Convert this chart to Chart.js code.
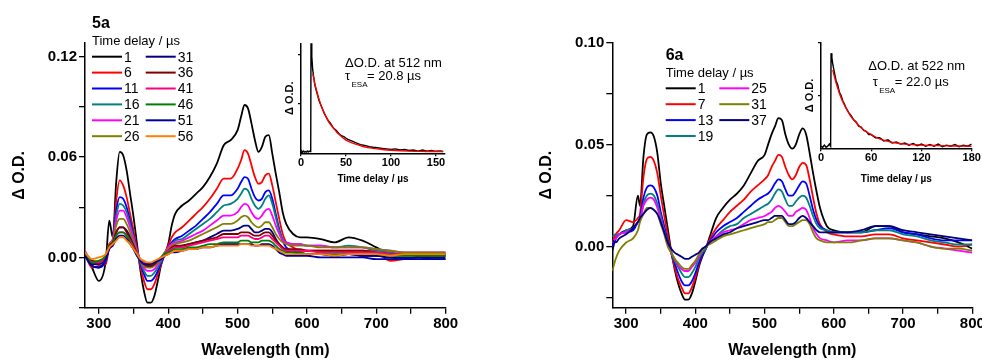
<!DOCTYPE html>
<html>
<head>
<meta charset="utf-8">
<title>Transient absorption 5a / 6a</title>
<script src="https://cdn.jsdelivr.net/npm/chart.js@4.4.0/dist/chart.umd.min.js"></script>
<style>
	body { margin: 0; width: 982px; height: 360px; overflow: hidden; background: #fff; position: relative; }
	canvas { position: absolute; }
</style>
</head>
<body>
<canvas id="spectra5a" width="491" height="360" style="left:0;top:0"></canvas>
<canvas id="spectra6a" width="520" height="360" style="left:491px;top:0"></canvas>
<canvas id="decay5a" width="185" height="150" style="left:270px;top:35px"></canvas>
<canvas id="decay6a" width="192" height="150" style="left:790px;top:35px"></canvas>
<script>
// ---- panel 5a : spectra ----
var wavelength5a = [280, 290, 300, 310, 315, 320, 325, 330, 335, 340,
	345, 350, 355, 360, 365, 370, 375, 380, 385, 390,
	395, 400, 405, 410, 420, 430, 440, 450, 460, 470,
	480, 490, 500, 505, 510, 515, 520, 525, 530, 535,
	540, 545, 550, 555, 560, 565, 570, 580, 590, 600,
	620, 640, 660, 680, 700, 720, 740, 760, 780, 800];
var delays5a = ['1', '6', '11', '16', '21', '26', '31', '36', '41', '46', '51', '56'];

var od5a_1 = [0.002, -0.006, -0.014, -0.002, 0.022, 0.012, 0.045, 0.063, 0.061, 0.052,
	0.038, 0.024, 0.008, -0.008, -0.020, -0.027, -0.027, -0.023, -0.014, -0.004,
	0.002, 0.008, 0.019, 0.026, 0.031, 0.034, 0.038, 0.042, 0.048, 0.056,
	0.067, 0.070, 0.076, 0.084, 0.091, 0.089, 0.080, 0.070, 0.063, 0.066,
	0.072, 0.073, 0.062, 0.050, 0.039, 0.027, 0.020, 0.014, 0.012, 0.012,
	0.011, 0.009, 0.012, 0.010, 0.006, 0.002, 0.002, 0.001, 0.002, 0.001];
var od5a_6 = [0.002, -0.006, -0.005, -0.004, 0.006, 0.010, 0.034, 0.046, 0.043, 0.036,
	0.026, 0.016, 0.005, -0.006, -0.014, -0.019, -0.019, -0.016, -0.010, -0.004,
	0.002, 0.007, 0.012, 0.015, 0.018, 0.022, 0.026, 0.030, 0.035, 0.041,
	0.047, 0.047, 0.053, 0.058, 0.064, 0.062, 0.055, 0.048, 0.044, 0.045,
	0.049, 0.050, 0.043, 0.033, 0.023, 0.014, 0.009, 0.006, 0.004, 0.004,
	0.004, 0.004, 0.004, 0.004, 0.003, -0.002, -0.001, 0.000, 0.001, 0.001];
var od5a_11 = [0.001, -0.005, -0.006, -0.002, 0.006, 0.010, 0.028, 0.036, 0.035, 0.030,
	0.022, 0.013, 0.004, -0.004, -0.010, -0.014, -0.014, -0.012, -0.008, -0.003,
	0.002, 0.006, 0.009, 0.011, 0.013, 0.016, 0.019, 0.023, 0.027, 0.032,
	0.037, 0.037, 0.041, 0.045, 0.048, 0.047, 0.041, 0.036, 0.034, 0.035,
	0.039, 0.040, 0.035, 0.026, 0.017, 0.010, 0.006, 0.004, 0.003, 0.002,
	0.002, 0.001, 0.002, 0.001, 0.001, 0.000, -0.001, 0.000, -0.001, -0.001];
var od5a_16 = [0.003, -0.004, -0.004, -0.001, 0.007, 0.010, 0.025, 0.032, 0.031, 0.027,
	0.020, 0.012, 0.004, -0.003, -0.008, -0.011, -0.011, -0.009, -0.006, -0.002,
	0.002, 0.006, 0.008, 0.010, 0.011, 0.014, 0.017, 0.020, 0.023, 0.027,
	0.031, 0.032, 0.035, 0.038, 0.041, 0.040, 0.035, 0.031, 0.029, 0.031,
	0.035, 0.037, 0.032, 0.024, 0.016, 0.011, 0.009, 0.008, 0.008, 0.007,
	0.007, 0.006, 0.007, 0.006, 0.004, 0.003, 0.002, 0.002, 0.002, 0.002];
var od5a_21 = [0.004, -0.003, -0.003, 0.000, 0.008, 0.011, 0.022, 0.028, 0.028, 0.024,
	0.018, 0.011, 0.004, -0.002, -0.006, -0.008, -0.008, -0.007, -0.004, -0.001,
	0.003, 0.006, 0.008, 0.009, 0.010, 0.012, 0.014, 0.016, 0.019, 0.022,
	0.025, 0.025, 0.027, 0.030, 0.032, 0.031, 0.027, 0.024, 0.023, 0.025,
	0.028, 0.029, 0.025, 0.019, 0.014, 0.010, 0.009, 0.008, 0.008, 0.007,
	0.007, 0.006, 0.006, 0.006, 0.005, 0.004, 0.003, 0.003, 0.003, 0.003];
var od5a_26 = [0.003, -0.002, -0.002, 0.001, 0.008, 0.010, 0.019, 0.023, 0.023, 0.020,
	0.015, 0.009, 0.003, -0.002, -0.005, -0.006, -0.006, -0.005, -0.003, 0.000,
	0.003, 0.005, 0.007, 0.008, 0.009, 0.010, 0.012, 0.014, 0.016, 0.018,
	0.020, 0.020, 0.022, 0.024, 0.025, 0.024, 0.021, 0.019, 0.018, 0.019,
	0.021, 0.021, 0.018, 0.014, 0.011, 0.009, 0.008, 0.007, 0.007, 0.007,
	0.006, 0.006, 0.006, 0.006, 0.005, 0.004, 0.003, 0.003, 0.003, 0.003];
var od5a_31 = [0.002, -0.004, -0.004, 0.000, 0.006, 0.008, 0.015, 0.018, 0.018, 0.016,
	0.012, 0.007, 0.002, -0.002, -0.004, -0.005, -0.005, -0.004, -0.002, 0.000,
	0.002, 0.004, 0.005, 0.006, 0.007, 0.008, 0.009, 0.010, 0.012, 0.014,
	0.016, 0.016, 0.017, 0.018, 0.019, 0.019, 0.017, 0.015, 0.015, 0.016,
	0.017, 0.017, 0.015, 0.011, 0.008, 0.006, 0.004, 0.003, 0.002, 0.002,
	0.002, 0.001, 0.002, 0.001, 0.001, 0.000, 0.000, 0.000, 0.000, 0.000];
var od5a_36 = [0.003, -0.002, -0.003, 0.001, 0.007, 0.009, 0.015, 0.018, 0.018, 0.015,
	0.011, 0.007, 0.002, -0.002, -0.004, -0.005, -0.005, -0.004, -0.002, 0.000,
	0.002, 0.004, 0.006, 0.007, 0.007, 0.008, 0.009, 0.010, 0.011, 0.012,
	0.014, 0.014, 0.014, 0.015, 0.015, 0.015, 0.014, 0.013, 0.013, 0.014,
	0.015, 0.015, 0.013, 0.010, 0.008, 0.006, 0.005, 0.005, 0.005, 0.004,
	0.004, 0.004, 0.004, 0.004, 0.003, 0.002, 0.002, 0.002, 0.002, 0.002];
var od5a_41 = [0.002, -0.003, -0.003, 0.001, 0.006, 0.008, 0.013, 0.015, 0.015, 0.013,
	0.010, 0.006, 0.002, -0.001, -0.003, -0.004, -0.004, -0.003, -0.002, 0.000,
	0.002, 0.004, 0.005, 0.006, 0.006, 0.007, 0.008, 0.009, 0.010, 0.011,
	0.012, 0.012, 0.012, 0.013, 0.013, 0.013, 0.012, 0.011, 0.011, 0.012,
	0.013, 0.013, 0.011, 0.009, 0.007, 0.005, 0.004, 0.004, 0.004, 0.004,
	0.003, 0.003, 0.003, 0.003, 0.003, 0.002, 0.002, 0.002, 0.002, 0.002];
var od5a_46 = [0.002, -0.003, -0.002, 0.001, 0.006, 0.008, 0.013, 0.015, 0.015, 0.013,
	0.009, 0.005, 0.001, -0.002, -0.004, -0.004, -0.004, -0.003, -0.002, 0.000,
	0.002, 0.003, 0.004, 0.005, 0.005, 0.006, 0.006, 0.007, 0.008, 0.008,
	0.009, 0.009, 0.009, 0.010, 0.010, 0.010, 0.009, 0.009, 0.009, 0.010,
	0.010, 0.010, 0.009, 0.007, 0.005, 0.004, 0.003, 0.003, 0.003, 0.002,
	0.002, 0.002, 0.002, 0.002, 0.002, 0.001, 0.001, 0.001, 0.001, 0.001];
var od5a_51 = [0.001, -0.005, -0.006, -0.001, 0.005, 0.007, 0.011, 0.013, 0.013, 0.011,
	0.008, 0.005, 0.001, -0.002, -0.004, -0.004, -0.004, -0.003, -0.002, -0.001,
	0.001, 0.002, 0.003, 0.003, 0.004, 0.005, 0.005, 0.006, 0.006, 0.007,
	0.008, 0.008, 0.008, 0.008, 0.008, 0.008, 0.008, 0.007, 0.007, 0.008,
	0.008, 0.008, 0.007, 0.005, 0.003, 0.002, 0.001, 0.001, 0.001, 0.001,
	0.000, 0.000, 0.000, 0.000, -0.001, -0.001, -0.001, -0.001, -0.001, -0.001];
var od5a_56 = [0.003, -0.001, 0.000, 0.002, 0.006, 0.008, 0.010, 0.012, 0.012, 0.010,
	0.008, 0.005, 0.002, -0.001, -0.002, -0.003, -0.003, -0.002, -0.001, 0.000,
	0.001, 0.002, 0.003, 0.004, 0.004, 0.005, 0.005, 0.006, 0.006, 0.007,
	0.007, 0.007, 0.007, 0.008, 0.008, 0.008, 0.007, 0.007, 0.007, 0.007,
	0.007, 0.007, 0.006, 0.005, 0.004, 0.003, 0.002, 0.002, 0.002, 0.002,
	0.002, 0.001, 0.002, 0.002, 0.002, 0.001, 0.002, 0.002, 0.002, 0.002];

// ---- panel 6a : spectra ----
var wavelength6a = [280, 285, 290, 300, 310, 317, 320, 325, 330, 335,
	340, 345, 350, 355, 360, 365, 370, 375, 380, 385,
	390, 395, 400, 405, 410, 415, 420, 430, 440, 450,
	460, 470, 480, 490, 500, 505, 510, 515, 520, 525,
	530, 535, 540, 545, 550, 555, 560, 565, 570, 575,
	580, 590, 600, 620, 640, 660, 680, 700, 720, 740,
	760, 780, 800];
var delays6a = ['1', '7', '13', '19', '25', '31', '37'];

var od6a_1 = [-0.002, 0.004, 0.006, 0.008, 0.010, 0.025, 0.020, 0.044, 0.055, 0.056,
	0.054, 0.046, 0.031, 0.020, 0.009, -0.002, -0.011, -0.018, -0.023, -0.026,
	-0.026, -0.023, -0.017, -0.010, -0.005, -0.001, 0.004, 0.014, 0.019, 0.023,
	0.026, 0.030, 0.036, 0.042, 0.045, 0.050, 0.055, 0.059, 0.063, 0.062,
	0.055, 0.050, 0.048, 0.050, 0.055, 0.058, 0.055, 0.046, 0.036, 0.027,
	0.019, 0.010, 0.008, 0.007, 0.007, 0.010, 0.010, 0.007, 0.006, 0.005,
	0.004, 0.002, -0.001];
var od6a_7 = [0.002, 0.006, 0.008, 0.013, 0.012, 0.014, 0.016, 0.034, 0.043, 0.044,
	0.042, 0.036, 0.025, 0.015, 0.006, -0.003, -0.010, -0.016, -0.020, -0.023,
	-0.023, -0.020, -0.015, -0.009, -0.004, -0.001, 0.003, 0.009, 0.013, 0.017,
	0.020, 0.023, 0.027, 0.030, 0.033, 0.035, 0.039, 0.042, 0.045, 0.044,
	0.039, 0.035, 0.033, 0.035, 0.039, 0.041, 0.040, 0.033, 0.024, 0.016,
	0.011, 0.007, 0.006, 0.005, 0.005, 0.006, 0.006, 0.004, 0.003, 0.002,
	0.001, 0.000, 0.001];
var od6a_13 = [0.000, 0.004, 0.006, 0.007, 0.008, 0.012, 0.014, 0.024, 0.029, 0.030,
	0.029, 0.025, 0.017, 0.010, 0.003, -0.003, -0.008, -0.013, -0.017, -0.019,
	-0.019, -0.017, -0.013, -0.008, -0.004, -0.001, 0.002, 0.007, 0.010, 0.012,
	0.014, 0.017, 0.020, 0.023, 0.025, 0.026, 0.028, 0.031, 0.033, 0.032,
	0.028, 0.025, 0.025, 0.027, 0.030, 0.032, 0.031, 0.025, 0.018, 0.013,
	0.010, 0.008, 0.007, 0.007, 0.007, 0.008, 0.009, 0.007, 0.006, 0.004,
	0.003, 0.003, 0.003];
var od6a_19 = [0.005, 0.006, 0.006, 0.008, 0.009, 0.012, 0.013, 0.021, 0.025, 0.026,
	0.025, 0.021, 0.015, 0.008, 0.002, -0.003, -0.007, -0.010, -0.013, -0.015,
	-0.015, -0.013, -0.010, -0.006, -0.003, -0.001, 0.002, 0.005, 0.008, 0.010,
	0.011, 0.014, 0.016, 0.018, 0.020, 0.021, 0.023, 0.026, 0.028, 0.027,
	0.023, 0.020, 0.020, 0.022, 0.024, 0.025, 0.024, 0.020, 0.015, 0.011,
	0.009, 0.008, 0.007, 0.007, 0.007, 0.008, 0.008, 0.006, 0.005, 0.003,
	0.002, 0.001, 0.001];
var od6a_25 = [0.002, 0.004, 0.006, 0.007, 0.009, 0.012, 0.013, 0.020, 0.023, 0.024,
	0.023, 0.019, 0.013, 0.007, 0.001, -0.003, -0.006, -0.009, -0.011, -0.012,
	-0.012, -0.010, -0.008, -0.005, -0.002, 0.000, 0.002, 0.005, 0.007, 0.008,
	0.009, 0.011, 0.013, 0.014, 0.015, 0.016, 0.017, 0.019, 0.020, 0.019,
	0.017, 0.015, 0.015, 0.017, 0.018, 0.019, 0.018, 0.014, 0.009, 0.006,
	0.004, 0.003, 0.002, 0.003, 0.003, 0.004, 0.004, 0.003, 0.002, 0.000,
	-0.001, -0.002, -0.003];
var od6a_31 = [-0.012, -0.006, -0.002, 0.002, 0.004, 0.008, 0.012, 0.016, 0.019, 0.019,
	0.018, 0.016, 0.011, 0.006, 0.000, -0.003, -0.006, -0.008, -0.010, -0.011,
	-0.011, -0.009, -0.007, -0.004, -0.002, 0.000, 0.001, 0.003, 0.005, 0.006,
	0.007, 0.008, 0.009, 0.010, 0.011, 0.012, 0.012, 0.013, 0.014, 0.014,
	0.012, 0.010, 0.010, 0.011, 0.012, 0.013, 0.013, 0.011, 0.007, 0.004,
	0.003, 0.002, 0.002, 0.002, 0.003, 0.004, 0.004, 0.003, 0.002, 0.000,
	-0.001, -0.001, -0.002];
var od6a_37 = [0.003, 0.002, 0.004, 0.006, 0.009, 0.012, 0.014, 0.016, 0.018, 0.019,
	0.018, 0.016, 0.012, 0.007, 0.002, -0.001, -0.003, -0.004, -0.005, -0.006,
	-0.006, -0.005, -0.004, -0.003, -0.001, 0.000, 0.002, 0.004, 0.006, 0.007,
	0.009, 0.010, 0.011, 0.012, 0.013, 0.013, 0.014, 0.015, 0.015, 0.015,
	0.013, 0.011, 0.011, 0.012, 0.014, 0.015, 0.014, 0.012, 0.010, 0.008,
	0.007, 0.007, 0.007, 0.007, 0.008, 0.010, 0.010, 0.008, 0.007, 0.006,
	0.005, 0.004, 0.003];

// ---- insets : decay traces (arbitrary units) ----
var time5a = [0, 1, 2, 3, 4, 5, 6, 7, 8, 9, 10, 10.8, 11.2, 12, 13, 14, 15, 16, 18, 20,
	22, 24, 26, 28, 30, 33, 36, 39, 42, 45, 48, 51, 54, 57, 60, 64, 68, 72, 76, 80,
	85, 90, 95, 100, 105, 110, 115, 120, 125, 130, 135, 140, 145, 150, 155, 158];
var trace5a = [0.01, 0.02, 0.01, 0.02, 0.01, 0.015, 0.01, 0.02, 0.012, 0.02, 0.015, 0.02, 1.3, 0.88, 0.76, 0.70, 0.64, 0.60, 0.54, 0.48,
	0.44, 0.40, 0.36, 0.33, 0.30, 0.27, 0.23, 0.21, 0.18, 0.16, 0.15, 0.13, 0.12, 0.11, 0.10, 0.085, 0.075, 0.07, 0.06, 0.055,
	0.05, 0.045, 0.04, 0.035, 0.04, 0.03, 0.035, 0.025, 0.03, 0.02, 0.03, 0.02, 0.025, 0.018, 0.022, 0.016];
var fitTime5a = [13, 14, 16, 18, 20, 24, 28, 32, 36, 40, 50, 60, 70, 80, 90, 100, 120, 140, 158];
var fit5a = [0.72, 0.69, 0.61, 0.55, 0.49, 0.40, 0.33, 0.27, 0.23, 0.19, 0.12, 0.085, 0.06, 0.045, 0.035, 0.028, 0.02, 0.017, 0.015];

var time6a = [0, 2, 4, 6, 8, 10, 11.5, 12, 13, 14, 15, 16, 18, 20, 22, 24, 26, 28, 30, 33,
	36, 39, 42, 45, 48, 51, 54, 57, 60, 65, 70, 75, 80, 85, 90, 95, 100, 105, 110, 115,
	120, 125, 130, 135, 140, 145, 150, 155, 160, 165, 170, 175, 180];
var trace6a = [0.02, 0.01, 0.03, 0.01, 0.02, 0.04, 0.02, 0.90, 0.86, 0.80, 0.76, 0.72, 0.64, 0.60, 0.53, 0.50, 0.45, 0.42, 0.38, 0.34,
	0.31, 0.27, 0.25, 0.21, 0.20, 0.17, 0.16, 0.13, 0.13, 0.10, 0.10, 0.07, 0.08, 0.05, 0.06, 0.04, 0.05, 0.03, 0.045, 0.025,
	0.04, 0.02, 0.035, 0.02, 0.04, 0.015, 0.03, 0.02, 0.035, 0.015, 0.03, 0.02, 0.04];
var fitTime6a = [14, 16, 18, 20, 22, 26, 30, 35, 40, 50, 60, 70, 80, 90, 100, 120, 140, 160, 180];
var fit6a = [0.74, 0.68, 0.62, 0.57, 0.52, 0.44, 0.38, 0.31, 0.26, 0.18, 0.13, 0.09, 0.065, 0.05, 0.04, 0.03, 0.025, 0.022, 0.02];

// ---- ticks and labels ----
var xTicks = [300, 350, 400, 450, 500, 550, 600, 650, 700, 750, 800];
var xLabels = ['300', '', '400', '', '500', '', '600', '', '700', '', '800'];
var yTicks5a = [-0.03, 0, 0.03, 0.06, 0.09, 0.12];
var yLabels5a = ['', '0.00', '', '0.06', '', '0.12'];
var yTicks6a = [-0.025, 0, 0.025, 0.05, 0.075, 0.10];
var yLabels6a = ['', '0.00', '', '0.05', '', '0.10'];
var tTicks5a = [0, 50, 100, 150];
var tTicks6a = [0, 60, 120, 180];
var probe5a = '512', tau5a = '20.8';
var probe6a = '522', tau6a = '22.0';

var colors5a = ['#000000', '#ff0000', '#0000ff', '#008080', '#ff00ff', '#808000',
	'#000080', '#800000', '#ff0080', '#008000', '#0000a0', '#ff8000'];
var colors6a = ['#000000', '#ff0000', '#0000ff', '#008080', '#ff00ff', '#808000', '#000080'];

var FONT = "'Liberation Sans', Arial, sans-serif";
var NARROW = "'Liberation Sans Narrow', 'Liberation Sans', Arial, sans-serif";

Chart.defaults.font.family = FONT;
Chart.defaults.color = '#000';

var Panel = Panel || {};

// legend: panel name, "Time delay / us" and two columns of line samples
var delayLegend = {
	id: 'delayLegend',
	afterDraw: function(chart, args, opts) {
		var ctx = chart.ctx;
		ctx.save();
		ctx.fillStyle = '#000';
		ctx.textBaseline = 'alphabetic';
		ctx.font = 'bold 16px ' + FONT;
		ctx.fillText(opts.panel, opts.x, opts.panelY);
		ctx.font = '13px ' + FONT;
		ctx.fillText('Time delay / \u00b5s', opts.x, opts.titleY);
		ctx.font = '14px ' + FONT;
		ctx.textBaseline = 'middle';
		chart.data.datasets.forEach(function(ds, i) {
			var x = opts.x + Math.floor(i / opts.rows) * opts.colWidth;
			var y = opts.firstRowY + (i % opts.rows) * opts.rowStep;
			ctx.strokeStyle = ds.borderColor;
			ctx.lineWidth = 2;
			ctx.beginPath();
			ctx.moveTo(x, y);
			ctx.lineTo(x + 30, y);
			ctx.stroke();
			ctx.fillText(ds.label, x + 32, y + 1);
		});
		ctx.restore();
	}
};

// text next to the decay trace
var fitNote = {
	id: 'fitNote',
	afterDraw: function(chart, args, opts) {
		var ctx = chart.ctx;
		ctx.save();
		ctx.fillStyle = '#000';
		ctx.textBaseline = 'alphabetic';
		ctx.font = '13px ' + FONT;
		ctx.fillText('\u0394O.D. at ' + opts.probe + ' nm', opts.x, opts.y1);
		ctx.fillText('\u03c4', opts.tauX, opts.y2);
		ctx.fillText('= ' + opts.tau + ' \u00b5s', opts.tauX + 22, opts.y2);
		ctx.font = '8px ' + FONT;
		ctx.fillText('ESA', opts.tauX + 6.5, opts.y2 + 6.5);
		ctx.restore();
	}
};

function blackAxis(tickLength) {
	return {
		grid: { drawOnChartArea: false, color: '#000', tickLength: tickLength, lineWidth: 1.3 },
		border: { color: '#000', width: 1.5 }
	};
}

Panel.Spectra = (function() {

	function Spectra(canvasId, setup) {
		this.ctx = document.getElementById(canvasId).getContext('2d');
		this.setup = setup;
	}

	Spectra.prototype.draw = function() {
		var s = this.setup;
		var datasets = s.series.map(function(values, i) {
			return {
				label: s.delays[i],
				data: s.wavelength.map(function(w, j) { return { x: w, y: values[j] }; }),
				borderColor: s.colors[i],
				borderWidth: 1.8,
				pointRadius: 0,
				cubicInterpolationMode: 'monotone',
				order: -i
			};
		});

		var xAxis = blackAxis(6);
		xAxis.type = 'linear';
		xAxis.min = 280;
		xAxis.max = 800;
		xAxis.afterBuildTicks = function(scale) {
			scale.ticks = xTicks.map(function(v) { return { value: v }; });
		};
		xAxis.afterFit = function(scale) { scale.height = 52.3; };
		xAxis.ticks = {
			autoSkip: false, maxRotation: 0, padding: 1,
			font: { size: 15, weight: 'bold' },
			callback: function(v, i) { return xLabels[i]; }
		};
		xAxis.title = { display: true, text: 'Wavelength (nm)', font: { size: 16, weight: 'bold' }, padding: { top: 0, bottom: 0 } };

		var yAxis = blackAxis(6);
		yAxis.min = s.yMin;
		yAxis.max = s.yMax;
		yAxis.afterBuildTicks = function(scale) {
			scale.ticks = s.yTicks.map(function(v) { return { value: v }; });
		};
		yAxis.afterFit = function(scale) { scale.width = s.axisWidth; };
		yAxis.ticks = {
			autoSkip: false, padding: 2,
			font: { size: 15, weight: 'bold' },
			callback: function(v, i) { return s.yLabels[i]; }
		};
		yAxis.title = { display: true, text: '\u0394 O.D.', font: { size: 16, weight: 'bold' }, padding: { top: s.titleOffset, bottom: 0 } };

		new Chart(this.ctx, {
			type: 'line',
			data: { datasets: datasets },
			options: {
				responsive: false,
				animation: false,
				layout: { padding: { top: s.padTop, right: s.padRight, left: 0, bottom: 0 } },
				plugins: { legend: { display: false }, tooltip: { enabled: false }, delayLegend: s.legend },
				scales: { x: xAxis, y: yAxis }
			},
			plugins: [delayLegend]
		});
	};

	return Spectra;

}());

Panel.Decay = (function() {

	function Decay(canvasId, setup) {
		this.ctx = document.getElementById(canvasId).getContext('2d');
		this.setup = setup;
	}

	Decay.prototype.draw = function() {
		var s = this.setup;
		function points(t, v) {
			return t.map(function(x, i) { return { x: x, y: v[i] }; });
		}

		var xAxis = blackAxis(3);
		xAxis.type = 'linear';
		xAxis.min = 0;
		xAxis.max = s.tMax;
		xAxis.afterBuildTicks = function(scale) {
			scale.ticks = s.tTicks.map(function(v) { return { value: v }; });
		};
		xAxis.afterFit = function(scale) { scale.height = s.axisHeight; };
		xAxis.ticks = { autoSkip: false, maxRotation: 0, padding: 0, font: { size: 11, weight: 'bold' } };
		xAxis.title = { display: true, text: 'Time delay / \u00b5s', font: { family: NARROW, size: 10, weight: 'bold' }, padding: { top: s.titlePad, bottom: 0 } };

		var yAxis = blackAxis(3);
		yAxis.min = 0;
		yAxis.max = 1;
		yAxis.afterBuildTicks = function(scale) {
			scale.ticks = s.yTicks.map(function(v) { return { value: v }; });
		};
		yAxis.afterFit = function(scale) { scale.width = 31; };
		yAxis.ticks = { display: false };
		yAxis.title = { display: true, text: '\u0394 O.D.', font: { size: 11, weight: 'bold' }, padding: { top: 13.4, bottom: 0 } };

		new Chart(this.ctx, {
			type: 'line',
			data: {
				datasets: [{
					data: points(s.time, s.trace),
					borderColor: '#000',
					borderWidth: 1.4,
					pointRadius: 0
				}, {
					data: points(s.fitTime, s.fit),
					borderColor: '#ff0000',
					borderWidth: 1.4,
					pointRadius: 0,
					tension: 0.4,
					order: -1
				}]
			},
			options: {
				responsive: false,
				animation: false,
				layout: { padding: { top: s.padTop, right: s.padRight, left: 0, bottom: 0 } },
				plugins: { legend: { display: false }, tooltip: { enabled: false }, fitNote: s.note },
				scales: { x: xAxis, y: yAxis }
			},
			plugins: [fitNote]
		});
	};

	return Decay;

}());

new Panel.Spectra('spectra5a', {
	wavelength: wavelength5a,
	delays: delays5a,
	colors: colors5a,
	series: [od5a_1, od5a_6, od5a_11, od5a_16, od5a_21, od5a_26, od5a_31, od5a_36, od5a_41, od5a_46, od5a_51, od5a_56],
	yMin: -0.03, yMax: 0.128,
	yTicks: yTicks5a, yLabels: yLabels5a,
	axisWidth: 85, padTop: 43, padRight: 45.3, titleOffset: 10.4,
	legend: { panel: '5a', x: 92, panelY: 28, titleY: 45, firstRowY: 56.7, rowStep: 15.9, colWidth: 53.7, rows: 6 }
}).draw();

new Panel.Spectra('spectra6a', {
	wavelength: wavelength6a,
	delays: delays6a,
	colors: colors6a,
	series: [od6a_1, od6a_7, od6a_13, od6a_19, od6a_25, od6a_31, od6a_37],
	yMin: -0.03, yMax: 0.10,
	yTicks: yTicks6a, yLabels: yLabels6a,
	axisWidth: 121.3, padTop: 42.7, padRight: 38.7, titleOffset: 46.4,
	legend: { panel: '6a', x: 174.7, panelY: 60, titleY: 76.7, firstRowY: 88.3, rowStep: 15.9, colWidth: 53.6, rows: 4 }
}).draw();

new Panel.Decay('decay5a', {
	time: time5a, trace: trace5a, fitTime: fitTime5a, fit: fit5a,
	tMax: 160, tTicks: tTicks5a, yTicks: [0.45, 0.9],
	axisHeight: 31.7, padTop: 8.3, padRight: 10, titlePad: 1.7,
	note: { probe: probe5a, tau: tau5a, x: 75, tauX: 75, y1: 32.3, y2: 45 }
}).draw();

new Panel.Decay('decay6a', {
	time: time6a, trace: trace6a, fitTime: fitTime6a, fit: fit6a,
	tMax: 180, tTicks: tTicks6a, yTicks: [0.5, 1.0],
	axisHeight: 36.7, padTop: 7.7, padRight: 10.3, titlePad: 2.7,
	note: { probe: probe6a, tau: tau6a, x: 78.3, tauX: 82.7, y1: 35, y2: 51 }
}).draw();
</script>
</body>
</html>
